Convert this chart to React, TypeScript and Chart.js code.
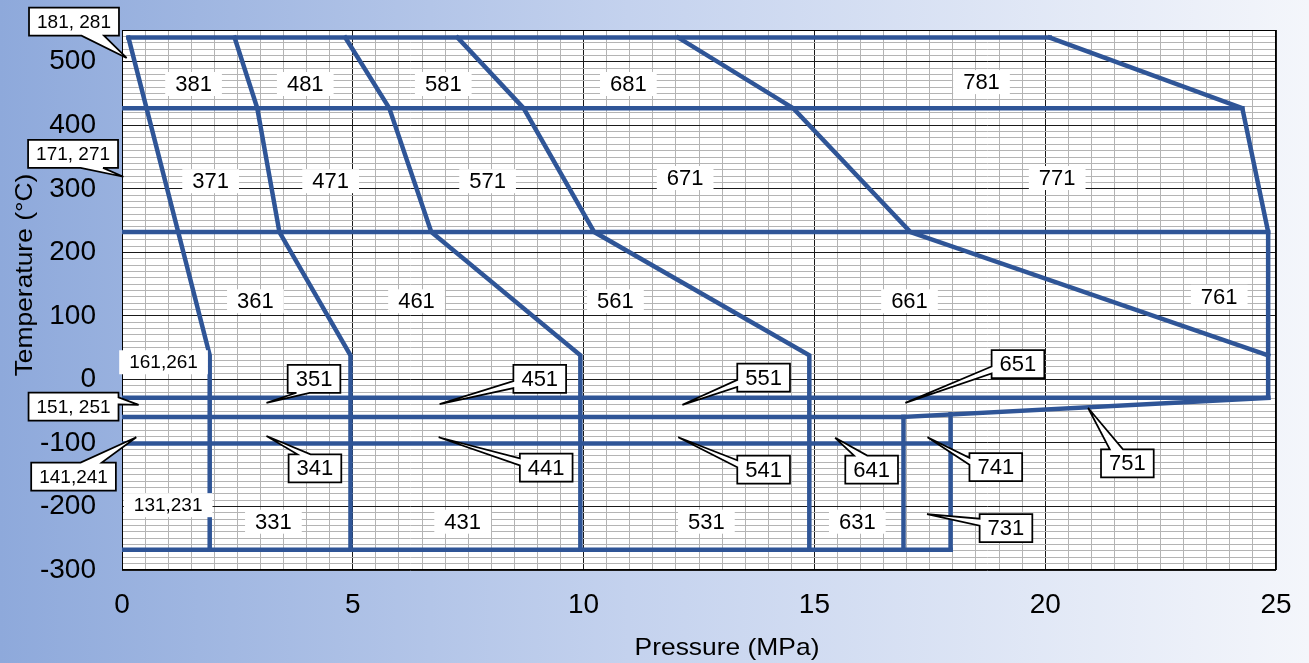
import { useEffect, useRef } from "react";
import { Chart, registerables } from "chart.js";

Chart.register(...registerables);

type Pt = [number, number];

// Axis ranges (pressure in MPa, temperature in °C)
const pressureRange: Pt = [0, 25];
const temperatureRange: Pt = [-300, 550];

// Category boundary polylines as [pressure, temperature]
const edge181to131: Pt[] = [[0.14, 538], [1.9, 38], [1.9, -268]];
const edge281to331: Pt[] = [[2.44, 538], [2.93, 427], [3.41, 232], [4.95, 38], [4.95, -268]];
const edge481to431: Pt[] = [[4.84, 538], [5.79, 427], [6.7, 232], [9.93, 38], [9.93, -268]];
const edge581to531: Pt[] = [[7.27, 538], [8.7, 427], [10.23, 232], [14.89, 38], [14.89, -268]];
const edge681to661: Pt[] = [[12.05, 538], [14.54, 427], [17.08, 232], [24.83, 38]];
const edge781to751: Pt[] = [[20.1, 538], [24.27, 427], [24.83, 232], [24.83, -29]];
const edge751: Pt[] = [[16.93, -59], [24.83, -29]];
const iso538: Pt[] = [[0.14, 538], [20.1, 538]];
const iso427: Pt[] = [[0, 427], [24.27, 427]];
const iso232: Pt[] = [[0, 232], [24.83, 232]];
const isoMinus29: Pt[] = [[0, -29], [24.83, -29]];
const isoMinus59: Pt[] = [[0, -59], [16.93, -59]];
const isoMinus101: Pt[] = [[0, -101], [17.95, -101]];
const isoMinus268: Pt[] = [[0, -268], [17.95, -268]];
const edge631: Pt[] = [[16.93, -59], [16.93, -268]];
const edge731: Pt[] = [[17.95, -55], [17.95, -268]];

const boundaries: Pt[][] = [
  edge181to131, edge281to331, edge481to431, edge581to531, edge681to661, edge781to751,
  edge751, iso538, iso427, iso232, isoMinus29, isoMinus59, isoMinus101, isoMinus268,
  edge631, edge731,
];

// Zone names written inside the regions
const zoneNames = [
  "381", "481", "581", "681", "781",
  "371", "471", "571", "671", "771",
  "361", "461", "561", "661", "761",
  "161,261", "131,231", "331", "431", "531", "631",
];
const zoneP = [1.55, 3.97, 6.96, 10.97, 18.62, 1.92, 4.52, 7.92, 12.2, 20.26, 2.89, 6.38, 10.69, 17.06, 23.77, 0.9, 1.0, 3.28, 7.38, 12.66, 15.93];
const zoneT = [465, 465, 465, 465, 468, 312, 312, 312, 317, 317, 123, 123, 123, 123, 130, 27, -198, -224, -224, -224, -224];

// Zone names written in callout boxes pointing into thin regions
const calloutNames = ["181, 281", "171, 271", "151, 251", "141,241", "351", "341", "451", "441", "551", "541", "651", "641", "741", "731", "751"];
const calloutBoxP = [-1.04, -1.06, -1.05, -1.05, 4.16, 4.18, 9.05, 9.19, 13.9, 13.9, 19.41, 16.24, 18.93, 19.15, 21.78];
const calloutBoxT = [563, 355, -43, -153, 1, -140, 1, -139, 3, -142, 24, -142, -138, -234, -132];
const calloutTipP = [0.1, 0.03, 0.36, 0.31, 3.13, 3.13, 6.88, 6.86, 12.14, 12.05, 16.97, 15.45, 17.45, 17.44, 20.93];
const calloutTipT = [506, 319, -40, -91, -37, -89, -39, -91, -40, -91, -37, -92, -91, -212, -45];
const calloutSide = ["b", "b", "r", "t", "b", "t", "l", "l", "l", "l", "l", "t", "l", "l", "t"];

const FONT = "'Liberation Sans', Arial, sans-serif";
const LINE_COLOR = "#2F5597";

const isMultiple = (v: number, step: number) => Math.abs(v / step - Math.round(v / step)) < 1e-6;

function drawCallout(
  ctx: CanvasRenderingContext2D,
  text: string,
  cx: number,
  cy: number,
  tx: number,
  ty: number,
  side: string
) {
  const size = text.length > 3 ? 19 : 22;
  ctx.font = `${size}px ${FONT}`;
  const w = ctx.measureText(text).width + 16;
  const h = 28;
  const l = cx - w / 2;
  const t = cy - h / 2;
  const r = l + w;
  const b = t + h;
  ctx.beginPath();
  if (side === "b" || side === "t") {
    const f1 = tx < cx ? 2 / 12 : 7 / 12;
    const f2 = tx < cx ? 5 / 12 : 10 / 12;
    const x1 = l + w * f1;
    const x2 = l + w * f2;
    if (side === "b") {
      ctx.moveTo(l, t);
      ctx.lineTo(r, t);
      ctx.lineTo(r, b);
      ctx.lineTo(x2, b);
      ctx.lineTo(tx, ty);
      ctx.lineTo(x1, b);
      ctx.lineTo(l, b);
    } else {
      ctx.moveTo(l, t);
      ctx.lineTo(x1, t);
      ctx.lineTo(tx, ty);
      ctx.lineTo(x2, t);
      ctx.lineTo(r, t);
      ctx.lineTo(r, b);
      ctx.lineTo(l, b);
    }
  } else {
    const f1 = ty < cy ? 2 / 12 : 7 / 12;
    const f2 = ty < cy ? 5 / 12 : 10 / 12;
    const y1 = t + h * f1;
    const y2 = t + h * f2;
    if (side === "r") {
      ctx.moveTo(l, t);
      ctx.lineTo(r, t);
      ctx.lineTo(r, y1);
      ctx.lineTo(tx, ty);
      ctx.lineTo(r, y2);
      ctx.lineTo(r, b);
      ctx.lineTo(l, b);
    } else {
      ctx.moveTo(l, t);
      ctx.lineTo(r, t);
      ctx.lineTo(r, b);
      ctx.lineTo(l, b);
      ctx.lineTo(l, y2);
      ctx.lineTo(tx, ty);
      ctx.lineTo(l, y1);
    }
  }
  ctx.closePath();
  ctx.fillStyle = "#ffffff";
  ctx.fill();
  ctx.lineWidth = 1.75;
  ctx.lineJoin = "miter";
  ctx.miterLimit = 4;
  ctx.strokeStyle = "#000000";
  ctx.stroke();
  ctx.fillStyle = "#000000";
  ctx.textAlign = "center";
  ctx.textBaseline = "middle";
  ctx.fillText(text, cx, cy + 1);
}

const plotFrame = {
  id: "plotFrame",
  beforeDraw(chart: any) {
    const { ctx, chartArea: a } = chart;
    ctx.save();
    ctx.fillStyle = "#ffffff";
    ctx.fillRect(a.left, a.top, a.right - a.left, a.bottom - a.top);
    ctx.restore();
  },
  beforeDatasetsDraw(chart: any) {
    const { ctx, chartArea: a } = chart;
    ctx.save();
    ctx.strokeStyle = "#000000";
    ctx.lineWidth = 1;
    ctx.strokeRect(Math.round(a.left) + 0.5, Math.round(a.top) + 0.5, Math.round(a.right - a.left) - 1, Math.round(a.bottom - a.top) - 1);
    ctx.restore();
  },
};

const zoneLabels = {
  id: "zoneLabels",
  afterDatasetsDraw(chart: any) {
    const { ctx } = chart;
    const xs = chart.scales.x;
    const ys = chart.scales.y;
    ctx.save();
    zoneNames.forEach((name, i) => {
      const size = name.length > 3 ? 19 : 22;
      ctx.font = `${size}px ${FONT}`;
      const cx = xs.getPixelForValue(zoneP[i]);
      const cy = ys.getPixelForValue(zoneT[i]);
      const w = ctx.measureText(name).width + 20;
      const h = 24;
      ctx.fillStyle = "#ffffff";
      ctx.fillRect(cx - w / 2, cy - h / 2, w, h);
      ctx.fillStyle = "#000000";
      ctx.textAlign = "center";
      ctx.textBaseline = "middle";
      ctx.fillText(name, cx, cy + 1);
    });
    calloutNames.forEach((name, i) => {
      drawCallout(
        ctx,
        name,
        xs.getPixelForValue(calloutBoxP[i]),
        ys.getPixelForValue(calloutBoxT[i]),
        xs.getPixelForValue(calloutTipP[i]),
        ys.getPixelForValue(calloutTipT[i]),
        calloutSide[i]
      );
    });
    ctx.restore();
  },
};

const axisTitles = {
  id: "axisTitles",
  afterDraw(chart: any) {
    const { ctx, chartArea: a } = chart;
    ctx.save();
    ctx.fillStyle = "#000000";
    ctx.font = `24px ${FONT}`;
    ctx.textAlign = "center";
    ctx.textBaseline = "alphabetic";
    ctx.save();
    ctx.translate((a.left + a.right) / 2 + 28, a.bottom + 85);
    ctx.scale(1.1, 1);
    ctx.fillText("Pressure (MPa)", 0, 0);
    ctx.restore();
    ctx.save();
    ctx.translate(32, (a.top + a.bottom) / 2 - 25);
    ctx.rotate(-Math.PI / 2);
    ctx.scale(1.1, 1);
    ctx.fillText("Temperature (°C)", 0, 0);
    ctx.restore();
    ctx.restore();
  },
};

export default function App() {
  const canvasRef = useRef<HTMLCanvasElement>(null);

  useEffect(() => {
    const canvas = canvasRef.current;
    if (!canvas) return;
    const chart = new Chart(canvas, {
      type: "scatter",
      data: {
        datasets: boundaries.map((pts) => ({
          data: pts.map(([x, y]) => ({ x, y })),
          showLine: true,
          borderColor: LINE_COLOR,
          backgroundColor: LINE_COLOR,
          borderWidth: 4.5,
          borderCapStyle: "square" as const,
          borderJoinStyle: "miter" as const,
          pointRadius: 0,
          pointHoverRadius: 0,
          fill: false,
          tension: 0,
        })),
      },
      options: {
        responsive: false,
        animation: false,
        events: [],
        layout: { padding: { top: 30, right: 33, left: 0, bottom: 0 } },
        plugins: {
          legend: { display: false },
          tooltip: { enabled: false },
          title: { display: false },
        },
        scales: {
          x: {
            type: "linear",
            position: "bottom",
            min: pressureRange[0],
            max: pressureRange[1],
            afterFit: (s: any) => {
              s.height = 93;
              s.paddingLeft = 0;
              s.paddingRight = 0;
            },
            border: { display: false },
            grid: {
              drawTicks: false,
              lineWidth: 1,
              color: (c: any) => (isMultiple(c.tick.value, 5) ? "#1a1a1a" : "#b4b4b4"),
            },
            ticks: {
              stepSize: 0.5,
              autoSkip: false,
              maxRotation: 0,
              minRotation: 0,
              padding: 18,
              color: "#000000",
              font: { family: FONT, size: 28 },
              callback: (v: any) => (isMultiple(Number(v), 5) ? String(Math.round(Number(v))) : ""),
            },
          },
          y: {
            type: "linear",
            position: "left",
            min: temperatureRange[0],
            max: temperatureRange[1],
            afterFit: (s: any) => {
              s.width = 122;
              s.paddingTop = 0;
              s.paddingBottom = 0;
            },
            border: { display: false },
            grid: {
              drawTicks: false,
              lineWidth: 1,
              color: (c: any) => (isMultiple(c.tick.value, 100) ? "#1a1a1a" : "#b4b4b4"),
            },
            ticks: {
              stepSize: 10,
              autoSkip: false,
              padding: 26,
              color: "#000000",
              font: { family: FONT, size: 28 },
              callback: (v: any) => {
                const n = Number(v);
                return isMultiple(n, 100) && n <= 500 ? String(Math.round(n)) : "";
              },
            },
          },
        },
      },
      plugins: [plotFrame, zoneLabels, axisTitles],
    });
    return () => chart.destroy();
  }, []);

  return (
    <div
      style={{
        position: "fixed",
        left: 0,
        top: 0,
        width: 1309,
        height: 663,
        background: "linear-gradient(to right, #8EA9DB 0%, #C4D2EE 48%, #F4F6FB 100%)",
      }}
    >
      <canvas ref={canvasRef} width={1309} height={663} style={{ display: "block" }} />
    </div>
  );
}
